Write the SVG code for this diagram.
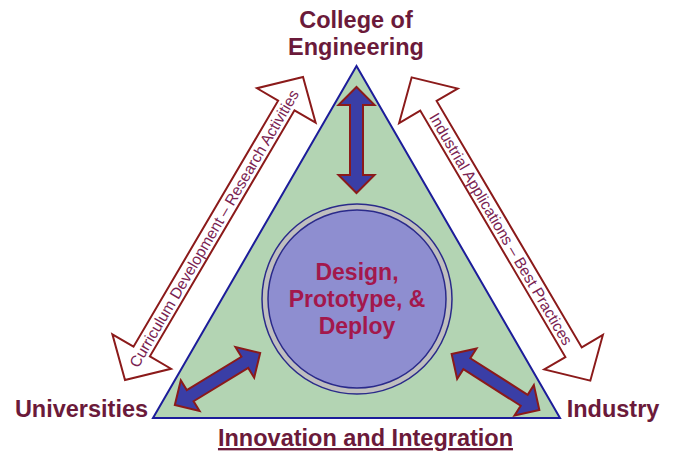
<svg xmlns="http://www.w3.org/2000/svg" width="678" height="453" viewBox="0 0 678 453">
<style>
.lbl{font-family:"Liberation Sans",Arial,sans-serif;font-weight:bold;font-size:23.5px;fill:#6b1a3a;text-anchor:middle}
.ctr{font-family:"Liberation Sans",Arial,sans-serif;font-weight:bold;font-size:23px;fill:#a3184c;text-anchor:middle}
.side{font-family:"Liberation Sans",Arial,sans-serif;font-size:15.5px;fill:#7a2352;text-anchor:middle}
.blue{fill:#3a3ea6;stroke:#8b1a1a;stroke-width:2;stroke-linejoin:miter}
.hollow{fill:#ffffff;stroke:#8b1a1a;stroke-width:2;stroke-linejoin:miter}
</style>
<defs>
<path id="dbl" d="M-50 0 L-31 -17 L-31 -6 L31 -6 L31 -17 L50 0 L31 17 L31 6 L-31 6 L-31 17 Z"/>
</defs>
<rect width="678" height="453" fill="#ffffff"/>
<g id="triangle">
<polygon points="356.5,66 153,418 560,418" fill="#b3d4b3" stroke="#1c1c9a" stroke-width="2"/>
</g>
<g id="hub">
<circle cx="357" cy="299" r="95" fill="#bfbfbf" stroke="#2a2a8a" stroke-width="1.5"/>
<circle cx="357" cy="299" r="89" fill="#8e8ed0" stroke="#2a2a8a" stroke-width="1.5"/>
<text class="ctr" x="357" y="280">Design,</text>
<text class="ctr" x="357" y="307">Prototype, &amp;</text>
<text class="ctr" x="357" y="334">Deploy</text>
</g>
<g id="connectors">
<path class="blue" transform="translate(356.5,140) rotate(90)" d="M-53 0 L-35 -18 L-35 -6.5 L35 -6.5 L35 -18 L53 0 L35 18 L35 6.5 L-35 6.5 L-35 18 Z"/>
<path class="blue" transform="translate(217.5,379) rotate(-31.4)" d="M-50 0 L-32 -18 L-32 -6.5 L32 -6.5 L32 -18 L50 0 L32 18 L32 6.5 L-32 6.5 L-32 18 Z"/>
<path class="blue" transform="translate(495.5,382) rotate(32.5)" d="M-52 0 L-34 -18 L-34 -6.5 L34 -6.5 L34 -18 L52 0 L34 18 L34 6.5 L-34 6.5 L-34 18 Z"/>
<g id="edge-left">
<path class="hollow" transform="translate(214,228.5) rotate(-59.56)" d="M-175.7 0 L-142.7 -34 L-142.7 -9.5 L142.7 -9.5 L142.7 -34 L175.7 0 L142.7 34 L142.7 9.5 L-142.7 9.5 L-142.7 34 Z"/>
<text class="side" transform="translate(214,228.5) rotate(-59.56)" x="0" y="5.5">Curriculum Development – Research Activities</text>
</g>
<g id="edge-right">
<path class="hollow" transform="translate(501,229) rotate(59.5)" d="M-176 0 L-143 -34 L-143 -9.5 L143 -9.5 L143 -34 L176 0 L143 34 L143 9.5 L-143 9.5 L-143 34 Z"/>
<text class="side" transform="translate(501,229) rotate(59.5)" x="0" y="5.5">Industrial Applications – Best Practices</text>
</g>
</g>
<g id="college">
<text class="lbl" x="356" y="28">College of</text>
<text class="lbl" x="356" y="55">Engineering</text>
</g>
<g id="universities">
<text class="lbl" x="81.5" y="417">Universities</text>
</g>
<g id="industry">
<text class="lbl" x="613" y="417">Industry</text>
</g>
<g id="innovation">
<text class="lbl" x="365.5" y="446" text-decoration="underline">Innovation and Integration</text>
</g>
</svg>
